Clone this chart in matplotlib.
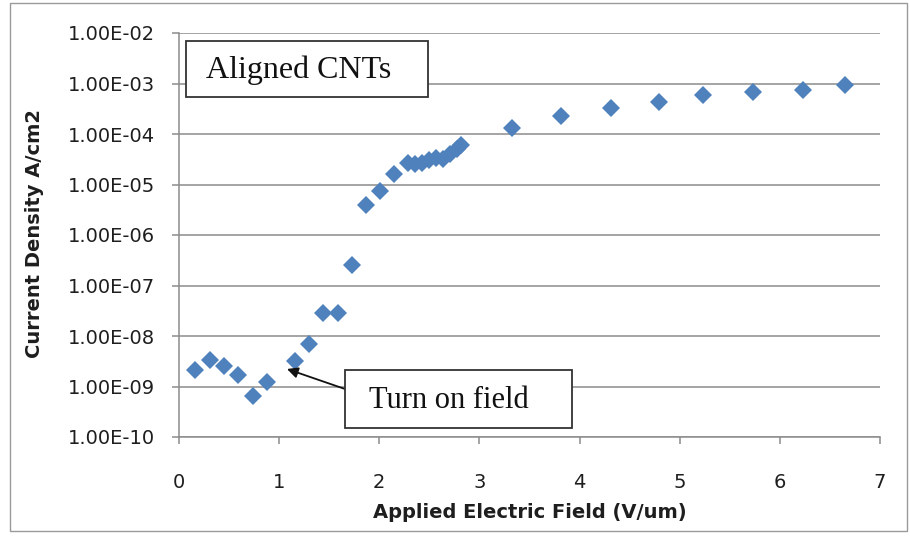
import matplotlib
matplotlib.use("Agg")
import matplotlib.pyplot as plt
from matplotlib.patches import Rectangle
from matplotlib.ticker import FixedLocator, FuncFormatter, NullLocator

# Field emission data for aligned CNTs
field_v_um = [0.16, 0.31, 0.45, 0.59, 0.74, 0.88, 1.16, 1.30, 1.44, 1.59,
              1.73, 1.87, 2.01, 2.15, 2.29, 2.36, 2.43, 2.50, 2.57, 2.64,
              2.71, 2.78, 2.82, 3.33, 3.81, 4.31, 4.79, 5.23, 5.73, 6.23, 6.65]
current_density = [2.1e-9, 3.3e-9, 2.6e-9, 1.7e-9, 6.6e-10, 1.25e-9, 3.2e-9,
                   7.0e-9, 2.9e-8, 2.9e-8, 2.6e-7, 3.9e-6, 7.4e-6, 1.65e-5,
                   2.7e-5, 2.6e-5, 2.7e-5, 3.1e-5, 3.4e-5, 3.2e-5, 4.0e-5,
                   5.0e-5, 6.0e-5, 1.33e-4, 2.3e-4, 3.3e-4, 4.4e-4, 5.9e-4,
                   6.7e-4, 7.6e-4, 9.5e-4]

x_ticks = [0, 1, 2, 3, 4, 5, 6, 7]
y_ticks = [1e-10, 1e-9, 1e-8, 1e-7, 1e-6, 1e-5, 1e-4, 1e-3, 1e-2]

W, H = 910, 537
fig = plt.figure(figsize=(W / 100, H / 100), dpi=100)
fig.patch.set_facecolor("white")

# outer chart frame
fig.patches.append(Rectangle((10 / W, 1 - 531 / H), 897 / W, 528 / H,
                             transform=fig.transFigure, fill=False,
                             edgecolor="#9a9a9a", linewidth=1.0))

ax = fig.add_axes([179 / W, 1 - 437 / H, (880 - 179) / W, (437 - 33) / H])

grid_col = "#8c8c8c"
text_col = "#1e1e1e"
sans = ["DejaVu Sans"]

ax.set_yscale("log")
ax.set_xlim(0, 7)
ax.set_ylim(1e-10, 1e-2)
ax.xaxis.set_major_locator(FixedLocator(x_ticks))
ax.yaxis.set_major_locator(FixedLocator(y_ticks))
ax.yaxis.set_minor_locator(NullLocator())
ax.yaxis.set_major_formatter(FuncFormatter(lambda v, p: f"{v:.2E}"))

for v in y_ticks:
    ax.axhline(v, color=grid_col, lw=1.1, zorder=1)

for s in ("top", "right"):
    ax.spines[s].set_visible(False)
for s in ("left", "bottom"):
    ax.spines[s].set_color(grid_col)
    ax.spines[s].set_linewidth(1.1)

ax.tick_params(axis="both", colors=grid_col, labelcolor=text_col,
               direction="out", length=5, width=1.1, labelsize=14)
ax.tick_params(axis="y", pad=12)
ax.tick_params(axis="x", pad=21)
for lab in ax.get_xticklabels() + ax.get_yticklabels():
    lab.set_fontfamily(sans)

ax.plot(field_v_um, current_density, linestyle="none", marker="D",
        markersize=9.3, color="#4f81bd", markeredgewidth=0, zorder=3)

ax.set_xlabel("Applied Electric Field (V/um)", fontsize=14, fontweight="bold",
              family=sans, color=text_col, labelpad=8)
fig.text(35 / W, 1 - 234 / H, "Current Density A/cm2", rotation=90,
         ha="center", va="center", fontsize=14, fontweight="bold",
         family=sans, color=text_col)

# annotation boxes
fig.patches.append(Rectangle((186 / W, 1 - 97 / H), 242 / W, 56 / H,
                             transform=fig.transFigure, facecolor="white",
                             edgecolor="#333333", linewidth=1.3, zorder=5))
fig.text(299 / W, 1 - 70 / H, "Aligned CNTs", ha="center", va="center",
         fontsize=23, family="Liberation Serif", color="#111111", zorder=6)

fig.patches.append(Rectangle((345 / W, 1 - 428 / H), 227 / W, 58 / H,
                             transform=fig.transFigure, facecolor="white",
                             edgecolor="#333333", linewidth=1.3, zorder=5))
fig.text(449 / W, 1 - 400 / H, "Turn on field", ha="center", va="center",
         fontsize=22, family="Liberation Serif", color="#111111", zorder=6)

ax.annotate("", xy=(287 / W, 1 - 369 / H), xycoords="figure fraction",
            xytext=(345 / W, 1 - 389 / H), textcoords="figure fraction",
            arrowprops=dict(arrowstyle="-|>", color="#111111", lw=1.3,
                            mutation_scale=16, shrinkA=0, shrinkB=0))

fig.savefig("out.png", dpi=100)
